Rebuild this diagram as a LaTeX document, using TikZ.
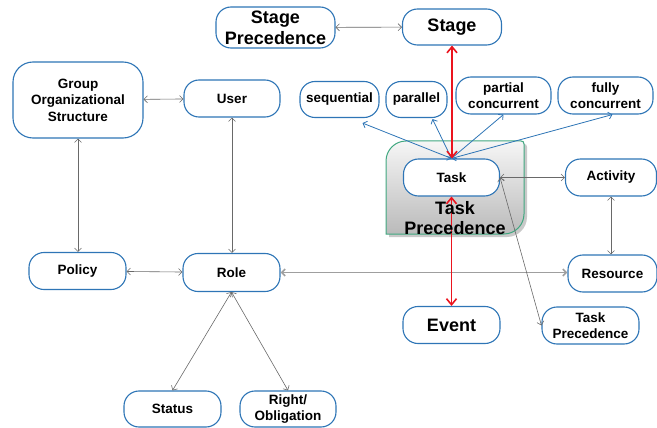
\documentclass[tikz,border=0pt]{standalone}
\usepackage{fontspec}
\setmainfont{Liberation Sans}
\usetikzlibrary{arrows.meta}
\definecolor{nodeblue}{RGB}{46,117,182}
\definecolor{groupgreen}{RGB}{64,168,128}
\definecolor{linkgray}{RGB}{105,105,105}
\definecolor{shadetop}{RGB}{246,246,246}
\definecolor{shadebottom}{RGB}{186,186,186}
\definecolor{linkred}{RGB}{235,20,30}
\tikzset{
  entity/.style={draw=nodeblue, line width=1.1pt, fill=white, rounded corners=15pt,
    align=center, inner sep=0pt, minimum width=96pt, minimum height=37pt,
    font=\bfseries\fontsize{13.5}{16.5}\selectfont},
  bigentity/.style={entity, font=\bfseries\fontsize{18}{21}\selectfont},
  gtip/.tip={Straight Barb[length=3.5pt,width=7pt]},
  link/.style={draw=linkgray, line width=0.6pt, gtip-gtip},
  wide link/.style={draw=gray!75, line width=1.6pt, gtip-gtip},
  blue link/.style={draw=nodeblue, line width=0.8pt, gtip-gtip},
  red link/.style={draw=linkred, line width=1.6pt,
    {Straight Barb[length=6pt,width=10pt]}-{Straight Barb[length=6pt,width=10pt]}},
}
\begin{document}
\begin{tikzpicture}[x=1pt, y=-1pt]
\useasboundingbox (0,0) rectangle (657,428);

% grouping panel with shadow and gradient
\begin{scope}[shift={(3,3)}]
  \fill[gray!60, opacity=0.7] (386,234) -- (386,161) .. controls (386,150) and (395,141) .. (406,141)
    -- (521,141) .. controls (523,141) and (524,142) .. (524,144)
    -- (524,214) .. controls (524,225) and (515,234) .. (504,234) -- cycle;
\end{scope}
\shade[top color=shadetop, bottom color=shadebottom, draw=groupgreen, line width=1pt]
  (386,234) -- (386,161) .. controls (386,150) and (395,141) .. (406,141)
    -- (521,141) .. controls (523,141) and (524,142) .. (524,144)
    -- (524,214) .. controls (524,225) and (515,234) .. (504,234) -- cycle;

% entities
\node[bigentity, minimum width=119pt, minimum height=41pt] (stprec) at (275.5,27.5) {Stage\\Precedence};
\node[bigentity, minimum width=99pt, minimum height=36pt] (stage) at (452,27) {Stage};
\node[entity, minimum width=79pt, minimum height=36pt] (seq) at (339.5,99.5) {sequential};
\node[entity, minimum width=61pt, minimum height=36pt] (par) at (416.5,99.5) {parallel};
\node[entity, minimum width=95pt] (partial) at (503.5,95.5) {partial\\concurrent};
\node[entity, minimum width=95pt] (fully) at (605.5,95.5) {fully\\concurrent};
\node[entity] (task) at (451.5,177.5) {Task};
\node[entity, minimum width=91pt] (activity) at (611,177.5) {Activity};
\node[entity, minimum width=130pt, minimum height=76pt, rounded corners=20pt] (group) at (78,100) {Group\\Organizational\\Structure};
\node[entity] (user) at (232,98.5) {User};
\node[entity, minimum width=97pt] (policy) at (77.5,271) {Policy};
\node[entity, minimum width=97pt, minimum height=38pt] (role) at (231.5,272.5) {Role};
\node[entity, minimum width=89pt] (resource) at (612.5,273.5) {Resource};
\node[bigentity, minimum width=97pt] (event) at (451.5,325) {Event};
\node[entity, minimum width=97pt] (taskprec) at (590.5,325.5) {Task\\Precedence};
\node[entity, minimum width=97pt, minimum height=36pt] (status) at (172.5,409) {Status};
\node[entity, minimum width=96pt, minimum height=36pt] (right) at (288,409) {Right/\\Obligation};

% connectors
\draw[link] (stprec) -- (stage);
\draw[link] (group) -- (user);
\draw[link] (group.south) -- (group.south |- policy.north);
\draw[link] (user.south) -- (user.south |- role.north);
\draw[link] (policy) -- (role);
\draw[wide link] (role.east) -- (role.east -| resource.west);
\draw[link] (role.south) -- (status.north);
\draw[link] (role.south) -- (right.north);
\draw[link] (task) -- (activity);
\draw[link] (activity.south) -- (activity.south |- resource.north);
\draw[link] (task.east) -- (taskprec.west);

\draw[blue link] (task.north) -- ([shift={(23,5)}]seq.south);
\draw[blue link] (task.north) -- ([shift={(16,1)}]par.south);
\draw[blue link] (task.north) -- (partial.south);
\draw[blue link] (task.north) -- ([xshift=7]fully.south);

\draw[red link] (stage.south) -- (stage.south |- task.north);
\draw[red link] (task.south) -- (task.south |- event.north);

% panel caption
\node[align=center, font=\bfseries\fontsize{18}{20}\selectfont] (tpcaption) at (455,218.5) {Task\\Precedence};
\end{tikzpicture}
\end{document}
